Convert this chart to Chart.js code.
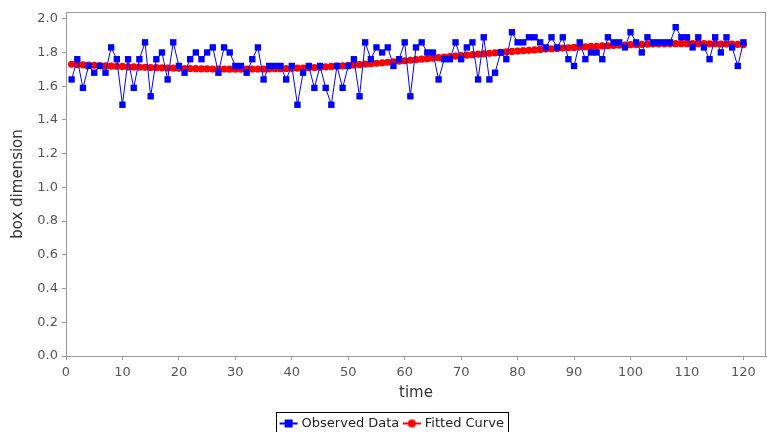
<!DOCTYPE html>
<html>
<head>
<meta charset="utf-8">
<script src="https://cdn.jsdelivr.net/npm/chart.js@4.4.1/dist/chart.umd.min.js"></script>
<style>
  html, body { margin: 0; padding: 0; background: #fff; }
  #wrap { width: 767px; height: 432px; position: relative; }
</style>
</head>
<body>
<div id="wrap"><canvas id="fitChart"></canvas></div>
<script>
// time steps 1..120
const timeSteps = [
  1, 2, 3, 4, 5, 6, 7, 8, 9, 10, 11, 12, 13, 14, 15, 16, 17, 18, 19, 20,
  21, 22, 23, 24, 25, 26, 27, 28, 29, 30, 31, 32, 33, 34, 35, 36, 37, 38, 39, 40,
  41, 42, 43, 44, 45, 46, 47, 48, 49, 50, 51, 52, 53, 54, 55, 56, 57, 58, 59, 60,
  61, 62, 63, 64, 65, 66, 67, 68, 69, 70, 71, 72, 73, 74, 75, 76, 77, 78, 79, 80,
  81, 82, 83, 84, 85, 86, 87, 88, 89, 90, 91, 92, 93, 94, 95, 96, 97, 98, 99, 100,
  101, 102, 103, 104, 105, 106, 107, 108, 109, 110, 111, 112, 113, 114, 115, 116, 117, 118, 119, 120
];

// observed box dimension
const observed = [
  1.64, 1.76, 1.59, 1.72, 1.68, 1.72, 1.68, 1.83, 1.76, 1.49,
  1.76, 1.59, 1.76, 1.86, 1.54, 1.76, 1.80, 1.64, 1.86, 1.72,
  1.68, 1.76, 1.80, 1.76, 1.80, 1.83, 1.68, 1.83, 1.80, 1.72,
  1.72, 1.68, 1.76, 1.83, 1.64, 1.72, 1.72, 1.72, 1.64, 1.72,
  1.49, 1.68, 1.72, 1.59, 1.72, 1.59, 1.49, 1.72, 1.59, 1.72,
  1.76, 1.54, 1.86, 1.76, 1.83, 1.80, 1.83, 1.72, 1.76, 1.86,
  1.54, 1.83, 1.86, 1.80, 1.80, 1.64, 1.76, 1.76, 1.86, 1.76,
  1.83, 1.86, 1.64, 1.89, 1.64, 1.68, 1.80, 1.76, 1.92, 1.86,
  1.86, 1.89, 1.89, 1.86, 1.83, 1.89, 1.83, 1.89, 1.76, 1.72,
  1.86, 1.76, 1.80, 1.80, 1.76, 1.89, 1.86, 1.86, 1.83, 1.92,
  1.86, 1.80, 1.89, 1.86, 1.86, 1.86, 1.86, 1.95, 1.89, 1.89,
  1.83, 1.89, 1.83, 1.76, 1.89, 1.80, 1.89, 1.83, 1.72, 1.86
];

// fitted curve
const fitted = [
  1.730, 1.728, 1.727, 1.725, 1.724, 1.722, 1.721, 1.719, 1.718, 1.717,
  1.715, 1.714, 1.713, 1.712, 1.711, 1.710, 1.709, 1.708, 1.707, 1.706,
  1.705, 1.705, 1.704, 1.703, 1.703, 1.702, 1.702, 1.702, 1.701, 1.701,
  1.701, 1.701, 1.702, 1.702, 1.702, 1.703, 1.704, 1.704, 1.705, 1.706,
  1.707, 1.708, 1.710, 1.711, 1.713, 1.715, 1.717, 1.719, 1.721, 1.723,
  1.726, 1.728, 1.731, 1.733, 1.736, 1.739, 1.742, 1.745, 1.748, 1.751,
  1.754, 1.757, 1.760, 1.763, 1.766, 1.769, 1.772, 1.775, 1.778, 1.781,
  1.784, 1.787, 1.790, 1.792, 1.795, 1.798, 1.800, 1.803, 1.806, 1.808,
  1.811, 1.813, 1.815, 1.818, 1.820, 1.822, 1.824, 1.826, 1.828, 1.830,
  1.832, 1.834, 1.836, 1.837, 1.839, 1.840, 1.842, 1.843, 1.844, 1.846,
  1.847, 1.848, 1.849, 1.850, 1.850, 1.851, 1.851, 1.852, 1.852, 1.852,
  1.852, 1.852, 1.852, 1.851, 1.851, 1.850, 1.850, 1.849, 1.848, 1.847
];

const xTicks = [0, 10, 20, 30, 40, 50, 60, 70, 80, 90, 100, 110, 120];
const yTicks = [0.0, 0.2, 0.4, 0.6, 0.8, 1.0, 1.2, 1.4, 1.6, 1.8, 2.0];

const FONT = "'DejaVu Sans', sans-serif";
const LEGEND_SHIFT = 10;

// legend swatch: short line with a marker in the middle
function swatch(color, shape) {
  const c = document.createElement("canvas");
  c.width = 20; c.height = 10;
  const g = c.getContext("2d");
  g.strokeStyle = color; g.fillStyle = color; g.lineWidth = 2;
  g.beginPath(); g.moveTo(1, 5); g.lineTo(19, 5); g.stroke();
  if (shape === "rect") {
    g.fillRect(6, 1, 8, 8);
  } else {
    g.beginPath(); g.arc(10, 5, 4, 0, Math.PI * 2); g.fill();
  }
  return c;
}

// gray plot outline + black frame around legend
const frames = {
  id: "frames",
  afterLayout(chart) {
    // legend sits a bit right of centre in the original
    chart.legend.left += LEGEND_SHIFT;
    chart.legend.right += LEGEND_SHIFT;
  },
  afterDraw(chart) {
    const { ctx, chartArea: a, legend } = chart;
    ctx.save();
    ctx.strokeStyle = "#9a9a9a";
    ctx.lineWidth = 1;
    ctx.strokeRect(a.left + 0.5, a.top + 0.5, a.right - a.left - 1, a.bottom - a.top);
    const boxes = legend.legendHitBoxes;
    if (boxes && boxes.length) {
      const last = boxes[boxes.length - 1];
      const l = Math.round(boxes[0].left) - 6;
      const r = Math.round(last.left + last.width) + 4;
      const t = Math.round(boxes[0].top) - 5;
      ctx.strokeStyle = "#000";
      ctx.strokeRect(l + 0.5, t + 0.5, r - l, 40);
    }
    ctx.restore();
  }
};

new Chart(document.getElementById("fitChart"), {
  type: "line",
  data: {
    datasets: [
      {
        label: "Observed Data",
        data: timeSteps.map((t, i) => ({ x: t, y: observed[i] })),
        borderColor: "#0000ff",
        backgroundColor: "#0000ff",
        borderWidth: 1,
        pointStyle: "rect",
        pointRadius: 4.5,
        pointBorderWidth: 0,
        tension: 0
      },
      {
        label: "Fitted Curve",
        data: timeSteps.map((t, i) => ({ x: t, y: fitted[i] })),
        borderColor: "#ff0000",
        backgroundColor: "#ff0000",
        borderWidth: 4,
        pointStyle: "circle",
        pointRadius: 3.6,
        pointBorderWidth: 0,
        tension: 0
      }
    ]
  },
  options: {
    responsive: true,
    maintainAspectRatio: false,
    animation: false,
    layout: { autoPadding: false, padding: { top: 12, right: 1, left: 0, bottom: -8 } },
    plugins: {
      tooltip: { enabled: false },
      legend: {
        position: "bottom",
        labels: {
          usePointStyle: true,
          font: { family: FONT, size: 13 },
          color: "#222",
          padding: 6,
          generateLabels(chart) {
            return chart.data.datasets.map((d, i) => ({
              text: d.label,
              datasetIndex: i,
              pointStyle: swatch(d.borderColor, i === 0 ? "rect" : "circle"),
              fillStyle: d.borderColor,
              strokeStyle: d.borderColor,
              lineWidth: 0,
              fontColor: "#222"
            }));
          }
        }
      }
    },
    scales: {
      x: {
        type: "linear",
        min: 0,
        max: 124,
        afterBuildTicks(s) { s.ticks = xTicks.map(v => ({ value: v })); },
        afterFit(s) { s.height = 55; s.paddingLeft = 0; s.paddingRight = 0; },
        ticks: { color: "#555", font: { family: FONT, size: 13 }, padding: 5, maxRotation: 0 },
        grid: { drawOnChartArea: false, drawTicks: true, tickLength: 4, color: "#9a9a9a" },
        border: { display: true, color: "#9a9a9a" },
        title: { display: true, text: "time", color: "#333", font: { family: FONT, size: 15 }, padding: { top: 0, bottom: 9 } }
      },
      y: {
        min: 0,
        max: 2.04,
        afterBuildTicks(s) { s.ticks = yTicks.map(v => ({ value: v })); },
        afterFit(s) { s.width = 66; },
        ticks: {
          color: "#555",
          font: { family: FONT, size: 13 },
          padding: 4,
          callback: v => v.toFixed(1)
        },
        grid: { drawOnChartArea: false, drawTicks: true, tickLength: 4, color: "#9a9a9a" },
        border: { display: true, color: "#9a9a9a" },
        title: { display: true, text: "box dimension", color: "#333", font: { family: FONT, size: 15 }, padding: { top: 9, bottom: 0 } }
      }
    }
  },
  plugins: [frames]
});
</script>
</body>
</html>
